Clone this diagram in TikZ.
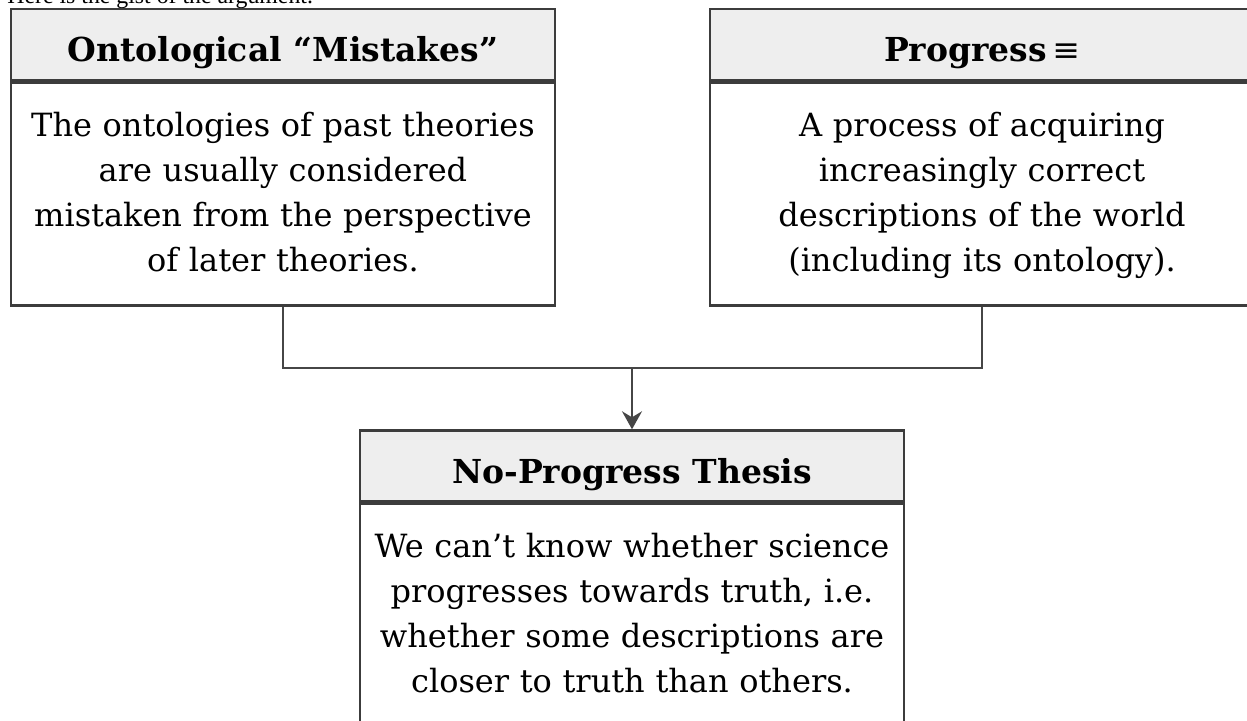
\documentclass[tikz,border=0pt]{standalone}
\usepackage{fontspec}
\setmainfont{DejaVu Serif}
\newfontfamily\notefont{Liberation Serif}
\usepackage{xcolor}
\definecolor{HeadGray}{HTML}{EEEEEE}
\definecolor{EdgeGray}{HTML}{3C3C3C}
\definecolor{LinkGray}{HTML}{464646}
\usetikzlibrary{arrows.meta, positioning}
\newcommand{\bodystrut}{\rule[-4.5pt]{0pt}{19pt}}

\begin{document}
\begin{tikzpicture}[
  x=0.5pt, y=-0.5pt,
  head/.style={rectangle, draw=EdgeGray, line width=1.2pt, fill=HeadGray,
               minimum width=272pt, minimum height=35.5pt, inner sep=0pt,
               text height=17pt, text depth=0pt,
               font=\fontsize{16.5}{20}\selectfont\bfseries},
  body/.style={rectangle, draw=EdgeGray, line width=1.2pt, fill=white,
               minimum width=272pt, minimum height=111.5pt, inner sep=0pt,
               text width=262pt, align=center,
               execute at begin node=\bodystrut, execute at end node=\bodystrut,
               font=\fontsize{16}{22.5}\selectfont},
  link/.style={draw=LinkGray, line width=1pt},
]
\useasboundingbox (0,0) rectangle (1247,721);
\clip (0,0) rectangle (1247,721);

\node[font=\notefont\fontsize{11.9}{13}\selectfont, anchor=base west, inner sep=0pt] (intro) at (7,3.5) {Here is the gist of the argument.};

% premises
\node[head] (mistakes) at (283,44.5) {Ontological “Mistakes”};
\node[body, below=0pt of mistakes] (mistakesText) {The ontologies of past theories\\ are usually considered\\ mistaken from the perspective\\ of later theories.};

\node[head] (progress) at (982,44.5) {Progress\,{\mdseries ≡}};
\node[body, below=0pt of progress] (progressText) {A process of acquiring\\ increasingly correct\\ descriptions of the world\\ (including its ontology).};

% conclusion
\node[head] (thesis) at (632,466) {No-Progress Thesis};
\node[body, below=0pt of thesis] (thesisText) {We can’t know whether science\\ progresses towards truth, i.e.\\ whether some descriptions are\\ closer to truth than others.};

\coordinate (join) at (632,368);
\draw[link] (mistakesText.south) |- (join) -| (progressText.south);
\draw[link, -{Stealth[length=9pt, width=10pt, inset=3pt]}] (join) -- (thesis.north);
\end{tikzpicture}
\end{document}
